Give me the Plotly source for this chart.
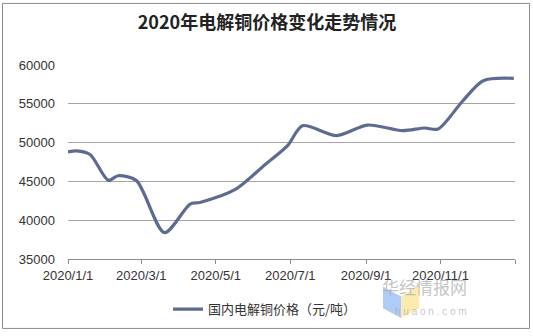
import plotly.graph_objects as go

dates = ["2020-01-01", "2020-01-08", "2020-01-19", "2020-02-03", "2020-02-11",
         "2020-02-26", "2020-03-20", "2020-04-10", "2020-04-18", "2020-05-17",
         "2020-06-10", "2020-06-29", "2020-07-11", "2020-08-08", "2020-09-02",
         "2020-10-01", "2020-10-19", "2020-10-30", "2020-11-19", "2020-12-06",
         "2020-12-31"]
prices = [48800, 48940, 48470, 45150, 45730,
          45100, 38400, 42070, 42290, 43960,
          47120, 49650, 52170, 50910, 52260,
          51540, 51880, 51750, 55330, 57980,
          58280]

series_name = "国内电解铜价格（元/吨）"
title_text = "2020年电解铜价格变化走势情况"
tick_dates = ["2020-01-01", "2020-03-01", "2020-05-01", "2020-07-01",
              "2020-09-01", "2020-11-01", "2021-01-01"]
tick_labels = ["2020/1/1", "2020/3/1", "2020/5/1", "2020/7/1",
               "2020/9/1", "2020/11/1", ""]
y_ticks = [35000, 40000, 45000, 50000, 55000, 60000]
y_labels = ["35000", "40000", "45000", "50000", "55000", "60000"]

W, H = 533, 336
L, R, T, B = 68, 18, 65, 74
PW, PH = W - L - R, H - T - B


def px(x):
    return (x - L) / PW


def py(y):
    return (H - B - y) / PH


fig = go.Figure()
fig.add_trace(go.Scatter(
    x=dates, y=prices, mode="lines", name=series_name,
    line=dict(color="#5E6A92", width=3.2, shape="spline", smoothing=0.8),
))

fig.update_layout(
    width=W, height=H,
    margin=dict(l=L, r=R, t=T, b=B),
    paper_bgcolor="white", plot_bgcolor="white",
    title=dict(text="<b>" + title_text + "</b>", x=267 / W, xref="container",
               xanchor="center", y=1 - 23 / H, yanchor="middle",
               font=dict(family="Noto Sans CJK SC", size=18, color="#222222")),
    showlegend=True,
    legend=dict(orientation="h", x=px(265), xanchor="center", y=py(313),
                yanchor="middle", font=dict(family="Noto Sans CJK SC", size=13,
                                            color="#333333"),
                bgcolor="rgba(0,0,0,0)"),
    xaxis=dict(type="date", range=["2020-01-01", "2021-01-01"],
               tickvals=tick_dates, ticktext=tick_labels,
               showgrid=False, showline=True, linecolor="#8c8c8c", linewidth=1,
               ticks="outside", ticklen=4, tickcolor="#8c8c8c",
               tickfont=dict(family="Liberation Sans", size=13, color="#333333"),
               zeroline=False),
    yaxis=dict(range=[35000, 60000], tickvals=y_ticks, ticktext=y_labels,
               showgrid=True, gridcolor="#a6a6a6", gridwidth=1,
               showline=False, zeroline=False, ticks="", ticklen=0,
               tickfont=dict(family="Liberation Sans", size=13, color="#333333"),
               ticklabelstandoff=12),
)

# outer chart frame
fig.add_shape(type="rect", xref="paper", yref="paper",
              x0=px(2.5), x1=px(529.5), y0=py(332.5), y1=py(2.5),
              line=dict(color="#8c8c8c", width=1), fillcolor="rgba(0,0,0,0)",
              layer="below")

# watermark logo
fig.add_shape(type="path", xref="paper", yref="paper",
              path=f"M {px(383)} {py(290)} L {px(401)} {py(300)} L {px(401)} {py(322)} L {px(383)} {py(312)} Z",
              fillcolor="rgba(120,170,240,0.6)", line=dict(width=0))
fig.add_shape(type="path", xref="paper", yref="paper",
              path=f"M {px(401)} {py(300)} L {px(419)} {py(288)} L {px(419)} {py(312)} L {px(401)} {py(322)} Z",
              fillcolor="rgba(250,220,120,0.6)", line=dict(width=0))
fig.add_annotation(text="华经情报网", xref="paper", yref="paper",
                   x=px(468), y=py(304), showarrow=False, borderpad=0,
                   font=dict(family="Noto Sans CJK SC", size=17, color="rgba(170,170,170,0.7)"))
fig.add_annotation(text="h u a o n . c o m", xref="paper", yref="paper",
                   x=px(468), y=py(322), showarrow=False, borderpad=0,
                   font=dict(family="Liberation Sans", size=10, color="rgba(170,170,170,0.7)"))

fig.write_html("out.html")
